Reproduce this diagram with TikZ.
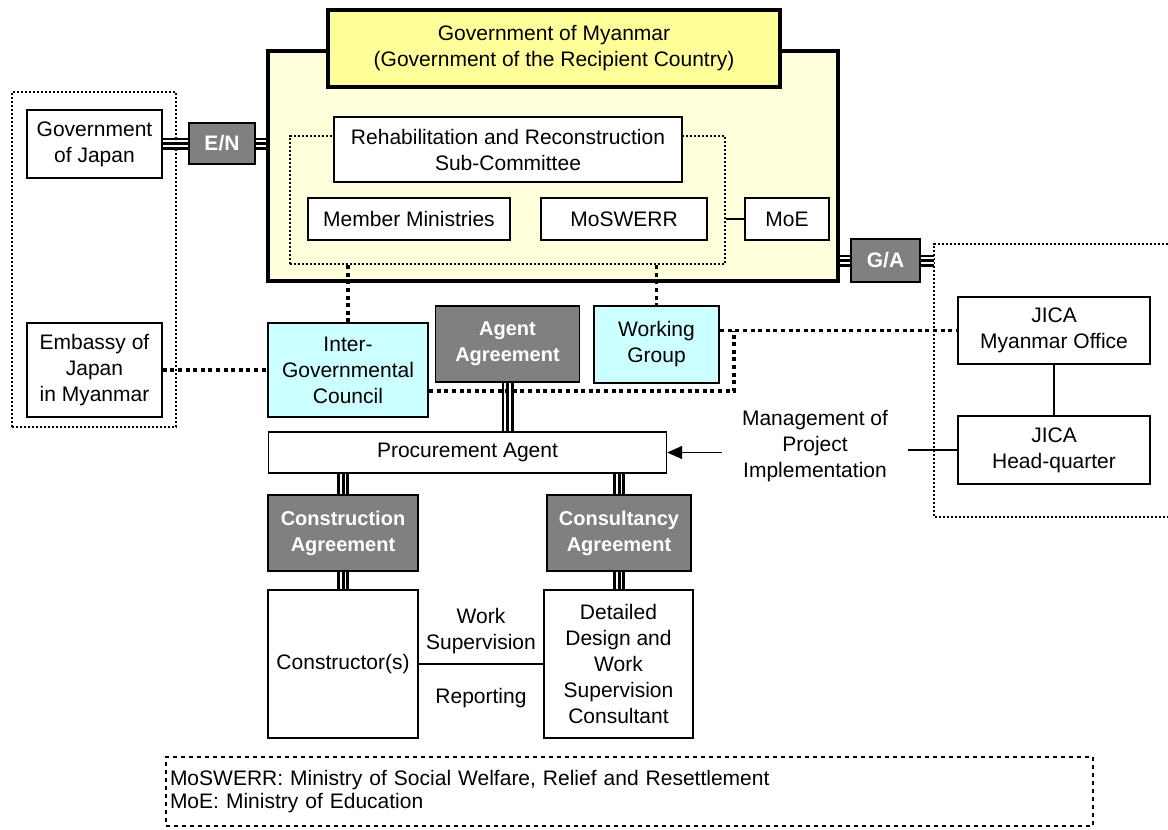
\documentclass[tikz,border=0pt]{standalone}
\usepackage{fontspec}
\setmainfont{Liberation Sans}
\usetikzlibrary{arrows.meta}
\definecolor{frameyellow}{RGB}{255,255,219}
\definecolor{titleyellow}{RGB}{255,255,153}
\definecolor{councilcyan}{RGB}{204,255,255}
\definecolor{agreegray}{RGB}{128,128,128}
\begin{document}
\begin{tikzpicture}[x=1pt,y=-1pt,
  every node/.style={font=\fontsize{21}{26}\selectfont},
  sz/.style 2 args={minimum width=#1pt, minimum height=#2pt},
  box/.style={draw, line width=1.4pt, fill=white, align=center, inner sep=0pt},
  agree/.style={box, fill=agreegray, text=white, line width=1.8pt,
    font=\fontsize{20}{26}\selectfont\bfseries},
  council/.style={box, fill=councilcyan, line width=2.4pt},
  groupline/.style={line width=2.4pt, dash pattern=on 2.2pt off 1.8pt},
  linkdots/.style={line width=3.3pt, dash pattern=on 4pt off 3.6pt},
  treaty/.style={draw=black, line width=12pt,
    postaction={draw=white, line width=6.5pt},
    postaction={draw=black, line width=3pt}},
  plain/.style={line width=1.4pt}
]
\useasboundingbox (0,0) rectangle (1168,830);
\fill[white] (0,0) rectangle (1168,830);

% recipient government frame and its heading
\node[draw, line width=3.5pt, fill=frameyellow, sz={570}{230}] (mmr) at (553,166) {};
\node[box, fill=titleyellow, line width=3.5pt, sz={452}{77}] (title) at (554,48.5)
  {Government of Myanmar\\(Government of the Recipient Country)};

% sub-committee area
\node[draw, groupline, sz={435}{128}] (sub) at (507.5,200) {};
\node[box, sz={348}{65}] (rehab) at (508,149.5)
  {Rehabilitation and Reconstruction\\Sub-Committee};
\node[box, sz={202}{42}] (member) at (409,219) {Member Ministries};
\node[box, sz={166}{42}] (moswerr) at (624,219) {MoSWERR};
\node[box, sz={84}{42}] (moe) at (787,219) {MoE};
\draw[plain] (sub.east |- moe.west) -- (moe.west);

% Japanese side
\node[draw, groupline, sz={164}{335}] (jpn) at (94,259.5) {};
\node[box, sz={135}{68}] (govj) at (94.5,144) {Government\\of Japan};
\node[box, sz={135}{94}] (emb) at (94.5,370) {Embassy of\\Japan\\in Myanmar};
\node[agree, sz={66}{41}, font=\fontsize{21}{26}\selectfont\bfseries] (en) at (222,143.5) {E/N};

% JICA side
\coordinate (jicaTR) at (1172,244);
\coordinate (jicaTL) at (934,244);
\coordinate (jicaBL) at (934,517);
\coordinate (jicaBR) at (1172,517);
\draw[groupline] (jicaTR) -- (jicaTL) -- (jicaBL) -- (jicaBR);
\node[agree, sz={69}{43}, font=\fontsize{21}{26}\selectfont\bfseries] (ga) at (885.5,260.5) {G/A};
\node[box, sz={192}{67}] (jmo) at (1054,330.5) {JICA\\Myanmar Office};
\node[box, sz={192}{68}] (jhq) at (1054,450) {JICA\\Head-quarter};

% council, agreement and working group row
\node[council, sz={160}{94}] (igc) at (348,370) {Inter-\\Governmental\\Council};
\node[agree, sz={144}{76}] (aa) at (507.5,344) {Agent\\Agreement};
\node[council, sz={125}{77}] (wg) at (656.5,344.5) {Working\\Group};

% implementation chain
\node[box, sz={398}{41}] (pa) at (467.5,452.5) {Procurement Agent};
\node[agree, sz={150}{76}] (ca) at (343,533) {Construction\\Agreement};
\node[agree, sz={144}{76}] (cna) at (619,533) {Consultancy\\Agreement};
\node[box, sz={150}{148}] (con) at (343,664) {Constructor(s)};
\node[box, sz={149}{148}] (ddc) at (618.5,664)
  {Detailed\\Design and\\Work\\Supervision\\Consultant};
\node[align=center, inner xsep=20pt, inner ysep=0pt] (mgmt) at (815,446)
  {Management of\\Project\\Implementation};
\node[align=center, inner sep=0pt] (wsup) at (481,631) {Work\\Supervision};
\node[inner sep=0pt] (rep) at (481,698) {Reporting};

% abbreviations
\node[draw, line width=2.7pt, dash pattern=on 4pt off 4pt, sz={927}{69},
  align=left, text width=919pt, inner xsep=4pt, inner ysep=0pt,
  font=\fontsize{21}{23}\selectfont] (notes) at (629.5,791.5)
  {MoSWERR: Ministry of Social Welfare, Relief and Resettlement\\MoE: Ministry of Education};

% agreements (triple lines)
\draw[treaty] (en.west -| govj.east) -- (en.west);
\draw[treaty] (en.east) -- (en.east -| mmr.west);
\draw[treaty] (ga.west -| mmr.east) -- (ga.west);
\draw[treaty] (ga.east) -- (ga.east -| jicaTL);
\draw[treaty] (aa.south) -- (aa.south |- pa.north);
\draw[treaty] (ca.north |- pa.south) -- (ca.north);
\draw[treaty] (cna.north |- pa.south) -- (cna.north);
\draw[treaty] (ca.south) -- (con.north);
\draw[treaty] (cna.south) -- (cna.south |- ddc.north);

% coordination links (dotted)
\coordinate (wgj) at (734,330.5);
\coordinate (igcj) at (734,391);
\draw[linkdots] (emb.east) -- (igc.west);
\draw[linkdots] (sub.south -| igc.north) -- (igc.north);
\draw[linkdots] (sub.south -| wg.north) -- (wg.north);
\draw[linkdots] (wg.east |- jmo.west) -- (jmo.west);
\draw[linkdots] (igcj -| igc.east) -- (igcj) -- (wgj);

% solid links
\draw[plain] (jmo.south) -- (jhq.north);
\draw[plain] (jhq.west) -- (jhq.west -| mgmt.east);
\draw[plain, -{Triangle[length=15pt, width=13pt]}] (mgmt.west |- pa.east) -- (pa.east);
\draw[plain] (con.east) -- (ddc.west);
\end{tikzpicture}
\end{document}
